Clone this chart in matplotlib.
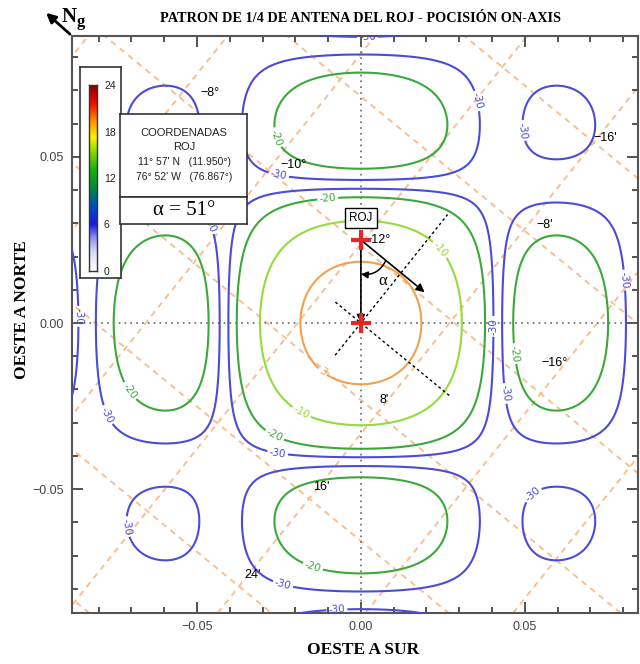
import numpy as np
import matplotlib
matplotlib.use('Agg')
import matplotlib.pyplot as plt
from matplotlib.colors import LinearSegmentedColormap
from matplotlib.patches import FancyArrowPatch

# ---------------- data ----------------
null_width = 0.0417                     # first null of the 1/4 antenna pattern (axis units)
contour_levels = [-30, -20, -10, -3]    # dB
contour_colors = ['#4b4bd8', '#3ca83c', '#92dc3c', '#f0a050']
contour_label_text = {-30: '-30', -20: '-20', -10: '-10', -3: '3'}
alpha_deg = 51
grid_a_angle = alpha_deg                 # "/" family of dashed grid lines
grid_b_angle = alpha_deg - 90            # "\" family
grid_a_offsets = [0.119, 0.086, 0.051, 0.015, -0.021, -0.056, -0.091]
grid_b_offsets = [-0.12, -0.085, -0.051, -0.018, 0.018, 0.053, 0.087]
grid_labels = ['\u22128\u00b0', '\u221210\u00b0', '\u221212\u00b0', '\u22128\'', '\u221216\'',
               '\u221216\u00b0', "8'", "16'", "24'"]
grid_label_x = [-0.049, -0.0245, 0.0012, 0.0535, 0.071, 0.055, 0.0058, -0.0145, -0.0355]
grid_label_y = [0.0693, 0.0476, 0.025, 0.0295, 0.0557, -0.012, -0.0232, -0.0494, -0.0759]
roj_xy = (0.0, 0.025)
center_xy = (0.0, 0.0)
cbar_ticks = [0, 6, 12, 18, 24]
x_ticks = [-0.05, 0.00, 0.05]
y_ticks = [-0.05, 0.00, 0.05]
label_pos = [(0.002, 0.086), (-0.0466, 0.0295), (-0.027, 0.0554), (-0.0253, 0.0434),
             (-0.01, 0.036), (0.024, 0.022), (-0.0125, -0.0157), (-0.0186, -0.0277),
             (-0.0268, -0.0347), (-0.0256, -0.0404), (-0.015, -0.0744), (-0.024, -0.0795),
             (-0.0073, -0.0867), (0.0415, -0.001), (0.0814, 0.013), (0.049, -0.009),
             (0.046, -0.021), (0.05, 0.058), (0.0494, -0.048), (-0.086, 0.002),
             (-0.0713, -0.021), (-0.078, -0.028), (-0.072, -0.0614), (0.0357, 0.0669)]
title = 'PATRON DE 1/4 DE ANTENA DEL ROJ - POCISI\u00d3N ON-AXIS'
coord_text = ['COORDENADAS', 'ROJ', '11\u00b0 57\' N   (11.950\u00b0)', '76\u00b0 52\' W   (76.867\u00b0)']

# ---------------- figure ----------------
W, H = 640, 664
fig = plt.figure(figsize=(W / 100, H / 100), dpi=100)
def fx(px): return px / W
def fy(py): return 1 - py / H

ax = fig.add_axes([fx(72), fy(613), fx(638) - fx(72), fy(36) - fy(613)])
ax.set_xlim(-0.0881, 0.0845)
ax.set_ylim(-0.0873, 0.0864)

# beam pattern field
gx = np.linspace(-0.1, 0.1, 801)
gy = np.linspace(-0.1, 0.1, 801)
X, Y = np.meshgrid(gx, gy)
P = (np.sinc(X / null_width) * np.sinc(Y / null_width)) ** 2
Z = 10 * np.log10(np.maximum(P, 1e-12))

# dashed orange grid
def draw_family(angle, offsets):
    th = np.deg2rad(angle)
    d = np.array([np.cos(th), np.sin(th)])
    n = np.array([-np.sin(th), np.cos(th)])
    t = np.array([-0.3, 0.3])
    for c in offsets:
        px = c * n[0] + t * d[0]
        py = c * n[1] + t * d[1]
        ax.plot(px, py, color='#f7c092', lw=1.4, dashes=(3.1, 2.6), zorder=1)
draw_family(grid_a_angle, grid_a_offsets)
draw_family(grid_b_angle, grid_b_offsets)

# dotted axes lines
ax.axhline(0, color='#666666', lw=1.2, ls=(0, (1, 2.5)), zorder=2)
ax.axvline(0, color='#666666', lw=1.2, ls=(0, (1, 2.5)), zorder=2)

cs = ax.contour(X, Y, Z, levels=contour_levels, colors=contour_colors, linewidths=1.5, zorder=3)
ax.clabel(cs, fmt=contour_label_text, fontsize=7.5, inline=True, inline_spacing=2,
          manual=label_pos)

# rotated black dotted lines through the centre
th = np.deg2rad(grid_a_angle)
ta = np.array([-0.0125, 0.042])
ax.plot(ta * np.cos(th), ta * np.sin(th), color='black', lw=1, ls=(0, (2, 2)), zorder=4)
th2 = np.deg2rad(grid_b_angle)
tb = np.array([-0.010, 0.035])
ax.plot(tb * np.cos(th2), tb * np.sin(th2), color='black', lw=1, ls=(0, (2, 2)), zorder=4)

# arrows
ax.add_patch(FancyArrowPatch(roj_xy, center_xy, arrowstyle='-|>', mutation_scale=12,
                             color='black', lw=1.2, zorder=5, shrinkA=0, shrinkB=0))
dir_len = 0.025
dx = dir_len * np.cos(th2)
dy = dir_len * np.sin(th2)
ax.add_patch(FancyArrowPatch(roj_xy, (roj_xy[0] + dx, roj_xy[1] + dy), arrowstyle='-|>',
                             mutation_scale=12, color='black', lw=1.2, zorder=5,
                             shrinkA=0, shrinkB=0))
r = 0.0098
a0 = (roj_xy[0] + r * np.cos(th2), roj_xy[1] + r * np.sin(th2))
a1 = (roj_xy[0], roj_xy[1] - r * 1.05)
ax.add_patch(FancyArrowPatch(a0, a1, connectionstyle='arc3,rad=-0.35', arrowstyle='-|>',
                             mutation_scale=10, color='black', lw=1.1, zorder=5,
                             shrinkA=0, shrinkB=0))
ax.text(0.0068, 0.0125, '\u03b1', fontsize=12, family='Liberation Serif', ha='center',
        va='center', zorder=6)

# markers
ax.plot([roj_xy[0], center_xy[0]], [roj_xy[1], center_xy[1]], ls='none', marker='+',
        ms=15, mew=3, color='#e8262a', zorder=7)
ax.text(0.0, 0.0316, 'ROJ', fontsize=8.5, family='Liberation Sans', ha='center', va='center',
        zorder=8, bbox=dict(boxstyle='square,pad=0.35', fc='white', ec='black', lw=1))

for s, x, y in zip(grid_labels, grid_label_x, grid_label_y):
    ax.text(x, y, s, fontsize=9, family='Liberation Sans', ha='left', va='center', zorder=6)

# axes styling
ax.set_xticks(x_ticks)
ax.set_yticks(y_ticks)
ax.set_xticklabels(['\u22120.05', '0.00', '0.05'])
ax.set_yticklabels(['\u22120.05', '0.00', '0.05'])
ax.set_xticks(np.arange(-0.08, 0.081, 0.01), minor=True)
ax.set_yticks(np.arange(-0.08, 0.081, 0.01), minor=True)
ax.tick_params(which='both', direction='in', top=True, right=True, colors='#444444',
               labelsize=9, width=1.3)
ax.tick_params(which='major', length=8, pad=6)
ax.tick_params(which='minor', length=4.5)
for lab in ax.get_xticklabels() + ax.get_yticklabels():
    lab.set_family('Liberation Sans')
for sp in ax.spines.values():
    sp.set_color('#555555')
    sp.set_linewidth(1.5)

fig.text(fx(363), fy(650), 'OESTE A SUR', fontsize=12.5, family='Liberation Serif',
         weight='bold', ha='center', va='center')
fig.text(fx(22), fy(310), 'OESTE A NORTE', fontsize=12.5, family='Liberation Serif',
         weight='bold', ha='center', va='center', rotation=90)
fig.text(fx(361), fy(18), title, fontsize=10.3, family='Liberation Serif', weight='bold',
         ha='center', va='center')

# north arrow
fig.add_artist(FancyArrowPatch((fx(72), fy(36)), (fx(44), fy(11)), transform=fig.transFigure,
                               arrowstyle='-|>', mutation_scale=14, color='black', lw=2))
fig.text(fx(62), fy(17), 'N', fontsize=15, family='Liberation Serif', weight='bold',
         ha='left', va='center')
fig.text(fx(77), fy(22), 'g', fontsize=12, family='Liberation Serif', weight='bold',
         ha='left', va='center')

# colorbar inset
box = fig.add_axes([fx(80), fy(278), fx(121) - fx(80), fy(67) - fy(278)])
box.set_xticks([]); box.set_yticks([])
box.set_facecolor('white')
for sp in box.spines.values():
    sp.set_color('#333333'); sp.set_linewidth(1.2)
cmap = LinearSegmentedColormap.from_list('rw', [
    (0.0, (1, 1, 1)), (0.10, (0.86, 0.86, 0.98)), (0.18, (0.55, 0.55, 0.95)),
    (0.25, (0.1, 0.1, 0.85)), (0.35, (0.0, 0.3, 0.75)), (0.45, (0.0, 0.55, 0.2)),
    (0.55, (0.1, 0.7, 0.05)), (0.65, (0.6, 0.85, 0.0)), (0.72, (1, 0.95, 0.0)),
    (0.8, (1, 0.6, 0.0)), (0.9, (0.95, 0.05, 0.0)), (1.0, (0.55, 0.0, 0.0))])
cax = fig.add_axes([fx(89), fy(271), fx(97) - fx(89), fy(85) - fy(271)])
cax.imshow(np.linspace(0, 24, 256)[:, None], aspect='auto', cmap=cmap, origin='lower',
           extent=[0, 1, 0, 24])
cax.set_xticks([])
cax.yaxis.tick_right()
cax.set_yticks(cbar_ticks)
cax.tick_params(axis='y', length=0, labelsize=7.5, pad=5, colors='#222222')
for lab in cax.get_yticklabels():
    lab.set_family('Liberation Sans')
for sp in cax.spines.values():
    sp.set_color('#333333'); sp.set_linewidth(1)

# coordinates box
tb_ax = fig.add_axes([fx(120), fy(197), fx(247) - fx(120), fy(114) - fy(197)])
tb_ax.set_xticks([]); tb_ax.set_yticks([])
tb_ax.set_facecolor('white')
for sp in tb_ax.spines.values():
    sp.set_color('#333333'); sp.set_linewidth(1.2)
for i, s in enumerate(coord_text):
    fs = 8 if i < 2 else 7.5
    fig.text(fx(184), fy([133, 147, 162, 177][i]), s, fontsize=fs, family='Liberation Sans',
             ha='center', va='center', color='#222222')
ab_ax = fig.add_axes([fx(120), fy(224), fx(247) - fx(120), fy(197) - fy(224)])
ab_ax.set_xticks([]); ab_ax.set_yticks([])
ab_ax.set_facecolor('white')
for sp in ab_ax.spines.values():
    sp.set_color('#333333'); sp.set_linewidth(1.2)
fig.text(fx(184), fy(211), '\u03b1 = %d\u00b0' % alpha_deg, fontsize=15,
         family='Liberation Serif', ha='center', va='center')

fig.savefig('out.png', dpi=100)
